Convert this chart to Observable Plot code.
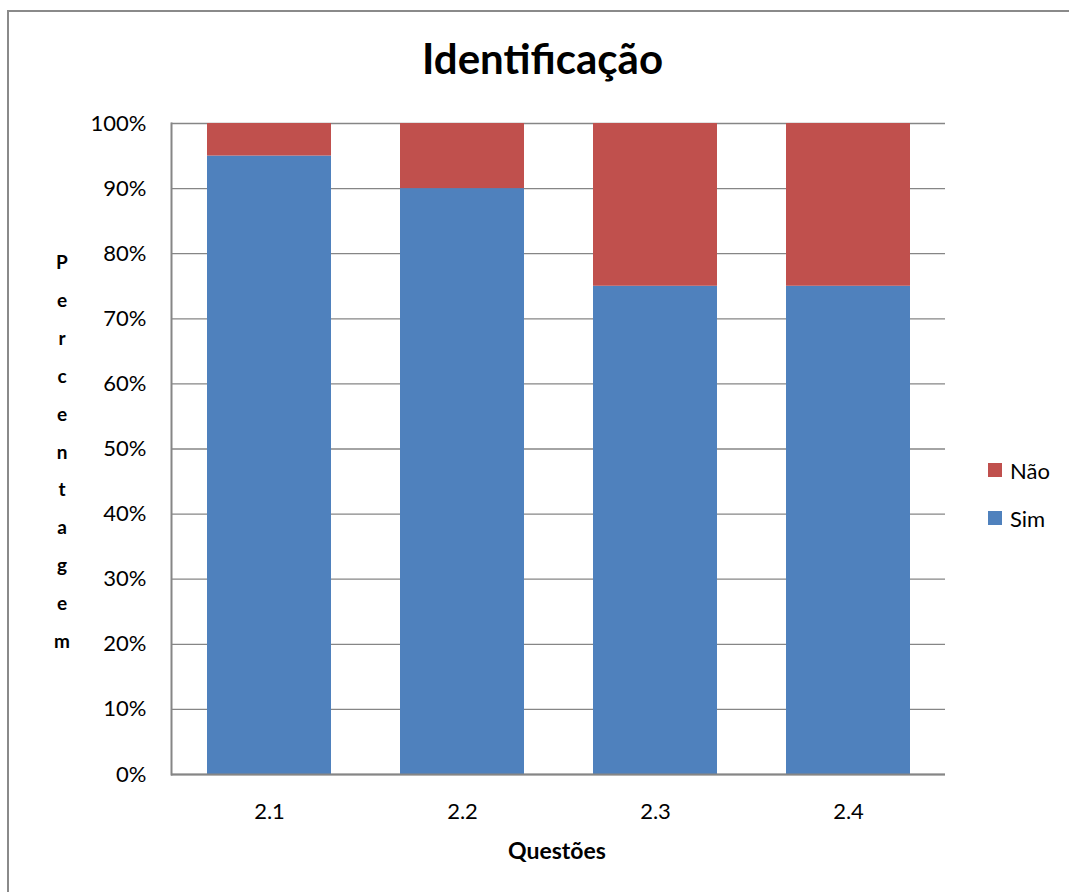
<!DOCTYPE html>
<html>
<head>
<meta charset="utf-8">
<script src="https://cdn.jsdelivr.net/npm/d3@7"></script>
<script src="https://cdn.jsdelivr.net/npm/@observablehq/plot@0.6"></script>
<style>
  html, body { margin: 0; padding: 0; background: #fff; }
  #wrap { position: relative; width: 1069px; height: 892px; font-family: Lato, "Open Sans", sans-serif; }
  #wrap svg { position: absolute; left: 0; top: 0; }
  .frameL { position: absolute; left: 7px; top: 10px; width: 2px; height: 882px; background: #8a8a8a; }
  .frameT { position: absolute; left: 7px; top: 10px; width: 1062px; height: 2px; background: #8a8a8a; }
  #title { position: absolute; left: 0; width: 1069px; top: 33px; text-align: center; font-weight: bold; font-size: 42px; line-height: 50px; color: #000; margin-left: 8px; }
  #ylab { position: absolute; left: 50px; top: 243px; width: 24px; text-align: center; font-weight: bold; font-size: 19px; line-height: 37.9px; color: #000; }
  #xlab { position: absolute; left: 457px; width: 200px; top: 836px; text-align: center; font-weight: bold; font-size: 23px; color: #000; }
  #legend { position: absolute; left: 988px; top: 456px; font-size: 22px; color: #000; }
  .li { display: flex; align-items: center; height: 28px; margin-bottom: 20px; }
  .sw { width: 14px; height: 14px; margin-right: 8px; }
</style>
</head>
<body>
<div id="wrap">
  <div class="frameL"></div>
  <div class="frameT"></div>
  <div id="title"></div>
  <div id="ylab"></div>
  <div id="xlab"></div>
  <div id="legend"></div>
</div>
<script>
const questoes = ["2.1", "2.2", "2.3", "2.4"];
const series = ["Sim", "Não"];
const sim = [95, 90, 75, 75];
const nao = [5, 10, 25, 25];
const yTicks = [0, 10, 20, 30, 40, 50, 60, 70, 80, 90, 100];
const colors = ["#4F81BD", "#C0504D"];
const yLabel = "Percentagem";
const xLabel = "Questões";
const titleText = "Identificação";

const rows = [];
questoes.forEach((q, i) => rows.push({questao: q, serie: "Sim", valor: sim[i]}));
questoes.forEach((q, i) => rows.push({questao: q, serie: "Não", valor: nao[i]}));

const chart = Plot.plot({
  width: 1069,
  height: 892,
  marginLeft: 171,
  marginRight: 124,
  marginTop: 123,
  marginBottom: 118,
  style: {fontFamily: "Lato, 'Open Sans', sans-serif", fontSize: "22px", color: "#000", background: "transparent"},
  x: {domain: questoes, paddingInner: 0.36, paddingOuter: 0.18, label: null},
  y: {domain: [0, 100], label: null},
  color: {domain: series, range: colors},
  marks: [
    Plot.gridY(yTicks, {stroke: "#868686", strokeOpacity: 1, strokeWidth: 1.3}),
    Plot.barY(rows, {x: "questao", y: "valor", fill: "serie"}),
    Plot.ruleY([0], {stroke: "#868686", strokeWidth: 2}),
    Plot.frame({anchor: "left", stroke: "#868686", strokeWidth: 2}),
    Plot.axisX({tickSize: 0, tickPadding: 29, fontSize: 22, fill: "#000"}),
    Plot.axisY({ticks: yTicks, tickFormat: d => d + "%", tickSize: 0, tickPadding: 25, fontSize: 22, fill: "#000"})
  ]
});
document.getElementById("wrap").insertBefore(chart, document.getElementById("wrap").firstChild);

document.getElementById("title").textContent = titleText;
document.getElementById("xlab").textContent = xLabel;
document.getElementById("ylab").innerHTML = yLabel.split("").map(c => `<div>${c}</div>`).join("");

const leg = document.getElementById("legend");
[["Não", colors[1]], ["Sim", colors[0]]].forEach(([name, col]) => {
  const d = document.createElement("div");
  d.className = "li";
  d.innerHTML = `<div class="sw" style="background:${col}"></div><span>${name}</span>`;
  leg.appendChild(d);
});
</script>
</body>
</html>
